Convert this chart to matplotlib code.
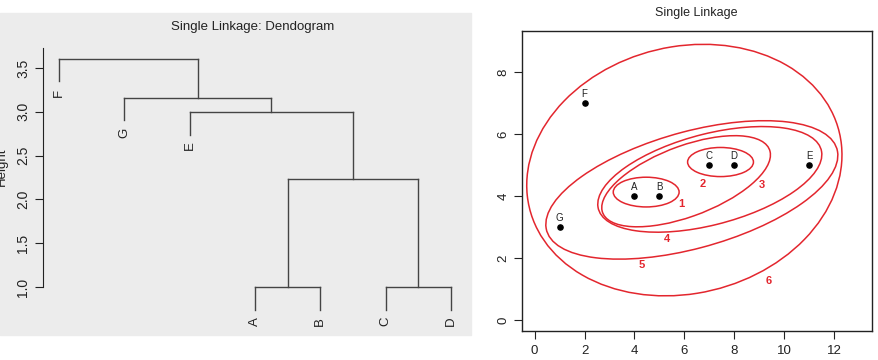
import matplotlib

matplotlib.use("Agg")
import matplotlib.pyplot as plt
from matplotlib.patches import Ellipse, Rectangle

plt.rcParams["font.family"] = ["Liberation Sans", "DejaVu Sans"]

# dendrogram: leaf order and merges (left, right, height)
leaves = ["F", "G", "E", "A", "B", "C", "D"]
merges = [
    ("A", "B", 1.0),
    ("C", "D", 1.0),
    ("AB", "CD", 2.236),
    ("E", "ABCD", 3.0),
    ("G", "EABCD", 3.162),
    ("F", "GEABCD", 3.606),
]
hang = 0.26
height_ticks = [1.0, 1.5, 2.0, 2.5, 3.0, 3.5]

# scatter points
pt_names = ["A", "B", "C", "D", "E", "F", "G"]
pt_x = [4, 5, 7, 8, 11, 2, 1]
pt_y = [4, 4, 5, 5, 5, 7, 3]

# cluster ellipses: centre x, centre y, semi-axis a, semi-axis b, angle (deg)
ell_cx = [4.47, 7.45, 6.07, 7.02, 6.30, 6.00]
ell_cy = [4.13, 5.10, 4.48, 4.54, 4.20, 4.84]
ell_a = [1.32, 1.32, 3.50, 4.57, 5.97, 6.35]
ell_b = [0.48, 0.47, 1.16, 1.48, 1.90, 4.01]
ell_ang = [0, 0, 15.9, 11.3, 12.0, 7.4]
ell_lab = ["1", "2", "3", "4", "5", "6"]
lab_x = [5.88, 6.72, 9.10, 5.29, 4.29, 9.39]
lab_y = [3.75, 4.40, 4.35, 2.61, 1.77, 1.26]

W, H = 879, 360
fig = plt.figure(figsize=(W / 100, H / 100), dpi=100)

# ---- left panel: dendrogram ----
fig.add_artist(Rectangle((0, 25 / H), 471 / W, 322 / H,
                         transform=fig.transFigure, color="#ececec", zorder=0))
ax = fig.add_axes([43 / W, 25 / H, 428 / W, 287 / H])
ax.patch.set_alpha(0)
ax.set_xlim(0.755, 7.306)
ax.set_ylim(0.452, 3.728)

pos = {name: i + 1 for i, name in enumerate(leaves)}
hgt = {name: None for name in leaves}
lc = "#444444"
for left, right, h in merges:
    for child in (left, right):
        x = pos[child]
        bottom = hgt[child] if hgt[child] is not None else h - hang
        ax.plot([x, x], [bottom, h], color=lc, lw=1)
        if hgt[child] is None:
            ax.annotate(child, (x, bottom), xytext=(0, -5),
                        textcoords="offset points", rotation=90,
                        ha="center", va="top", fontsize=9.5, color="#222222")
    ax.plot([pos[left], pos[right]], [h, h], color=lc, lw=1)
    name = left + right
    pos[name] = (pos[left] + pos[right]) / 2
    hgt[name] = h

for s in ["top", "right", "bottom"]:
    ax.spines[s].set_visible(False)
ax.spines["left"].set_bounds(1.0, 3.728)
ax.spines["left"].set_color("#222222")
ax.set_xticks([])
ax.set_yticks(height_ticks)
ax.set_yticklabels([f"{t:.1f}" for t in height_ticks], rotation=90, va="center")
ax.tick_params(axis="y", direction="out", length=6, width=0.8, pad=3,
               labelsize=10, colors="#222222")
fig.text(252.5 / W, 1 - 27 / H, "Single Linkage: Dendogram", ha="center",
         va="center", fontsize=9.5, color="#222222")
fig.text(8 / W, 1 - 167 / H, "Height", ha="right", va="center",
         rotation=90, fontsize=9.5, color="#222222")

# ---- right panel: clusters ----
ax2 = fig.add_axes([521.7 / W, 29 / H, 350 / W, 300.3 / H])
ax2.set_xlim(-0.52, 13.51)
ax2.set_ylim(-0.355, 9.34)
red = "#e3262e"
for cx, cy, a, b, ang in zip(ell_cx, ell_cy, ell_a, ell_b, ell_ang):
    ax2.add_patch(Ellipse((cx, cy), 2 * a, 2 * b, angle=ang, fill=False,
                          edgecolor=red, lw=1.1))
for t, x, y in zip(ell_lab, lab_x, lab_y):
    ax2.text(x, y, t, color=red, fontsize=8, fontweight="bold",
             ha="center", va="center")
ax2.scatter(pt_x, pt_y, s=14, color="black", zorder=3)
for n, x, y in zip(pt_names, pt_x, pt_y):
    ax2.annotate(n, (x, y), xytext=(0, 3), textcoords="offset points",
                 ha="center", va="bottom", fontsize=7, color="#222222")

ax2.set_xticks(range(0, 13, 2))
ax2.set_yticks(range(0, 9, 2))
ax2.set_yticklabels([str(v) for v in range(0, 9, 2)], rotation=90, va="center")
ax2.tick_params(direction="out", length=6, width=0.8, labelsize=9.5,
                colors="#222222")
ax2.tick_params(axis="x", pad=4)
ax2.tick_params(axis="y", pad=3)
for s in ax2.spines.values():
    s.set_linewidth(1)
    s.set_color("#222222")
fig.text(696.7 / W, 1 - 13 / H, "Single Linkage", ha="center", va="center",
         fontsize=9, color="#222222")

fig.savefig("out.png", dpi=100)
